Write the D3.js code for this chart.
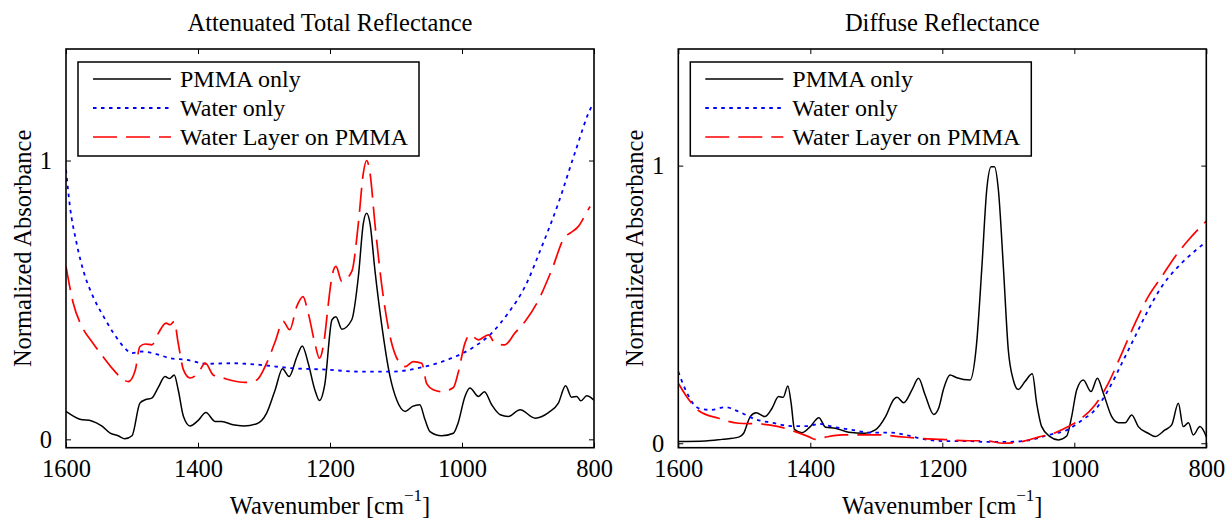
<!DOCTYPE html>
<html>
<head>
<meta charset="utf-8">
<script src="https://cdn.jsdelivr.net/npm/d3@7"></script>
<style>
  body { margin: 0; background: #fff; }
  svg text { font-family: "Liberation Serif", "Times New Roman", serif; fill: #000; }
</style>
</head>
<body>
<div id="chart"></div>
<script>
// ---- datos: [numero de onda, absorbancia normalizada] ----
var atrPmma = [[1600,0.100],[1579,0.072],[1561,0.066],[1546,0.048],[1533,0.022],[1521,0.013],[1511,0.002],[1500,0.013],
  [1488,0.130],[1480,0.142],[1470,0.148],[1460,0.187],[1450,0.225],[1443,0.218],[1436,0.231],[1430,0.178],[1422,0.082],
  [1412,0.048],[1400,0.067],[1388,0.096],[1374,0.064],[1364,0.064],[1347,0.052],[1331,0.048],[1311,0.056],[1296,0.094],
  [1283,0.178],[1272,0.253],[1262,0.225],[1250,0.297],[1242,0.335],[1233,0.273],[1223,0.178],[1216,0.139],[1208,0.195],
  [1197,0.429],[1191,0.440],[1182,0.395],[1167,0.429],[1157,0.584],[1149.5,0.775],[1144.5,0.811],[1139.4,0.775],
  [1132,0.608],[1122,0.417],[1109,0.225],[1099,0.142],[1086,0.100],[1075,0.118],[1064,0.124],[1056,0.070],[1048.5,0.028],
  [1031,0.013],[1013,0.022],[1006,0.058],[995.5,0.154],[988,0.184],[975,0.154],[966,0.171],[955,0.124],[942,0.088],
  [930,0.082],[912,0.106],[889,0.076],[869,0.096],[854,0.130],[843,0.192],[834,0.151],[826,0.154],[820,0.138],
  [811,0.156],[800,0.140]];
var atrWater = [[1600,0.967],[1594,0.835],[1584,0.704],[1571,0.584],[1559,0.512],[1543,0.440],[1528,0.381],[1513,0.333],
  [1500,0.309],[1485,0.315],[1468,0.309],[1442,0.291],[1417,0.285],[1387,0.271],[1347,0.273],[1306,0.267],[1256,0.255],
  [1205,0.250],[1157,0.243],[1107,0.243],[1056,0.261],[1016,0.291],[985,0.327],[955,0.381],[930,0.453],[904.5,0.548],
  [879,0.692],[854,0.847],[829,1.027],[803.5,1.194],[800,1.207]];
var atrLayer = [[1600,0.620],[1589,0.488],[1576,0.405],[1561,0.351],[1546,0.303],[1528,0.249],[1516,0.220],[1505.6,0.207],
  [1495,0.249],[1488,0.333],[1480,0.342],[1470,0.339],[1460,0.381],[1448.5,0.417],[1442,0.411],[1436,0.423],[1430,0.345],
  [1422,0.249],[1412,0.220],[1400,0.237],[1389,0.273],[1377,0.231],[1362,0.220],[1347,0.210],[1329,0.204],[1311,0.213],
  [1296,0.273],[1283,0.351],[1271,0.423],[1261,0.393],[1250.5,0.476],[1241,0.512],[1233,0.453],[1223,0.345],[1216,0.291],
  [1208,0.369],[1203,0.476],[1197,0.584],[1191,0.620],[1182,0.566],[1167,0.602],[1157,0.775],[1149.5,0.955],[1144.5,1.000],
  [1139.4,0.955],[1132,0.775],[1122,0.560],[1109,0.369],[1096,0.279],[1086,0.261],[1074,0.279],[1061,0.273],[1053.5,0.200],
  [1043.5,0.178],[1031,0.171],[1013,0.186],[1006,0.237],[995.5,0.345],[988,0.375],[975,0.357],[960,0.375],[950,0.345],
  [935,0.339],[920,0.381],[904.5,0.423],[884,0.500],[864,0.608],[844,0.727],[836,0.740],[824,0.763],[809,0.823],[806,0.835]];

var drPmma = [[1600,0.006],[1559,0.008],[1534,0.014],[1508.5,0.022],[1501,0.036],[1491,0.096],[1482,0.110],[1469,0.096],
  [1458,0.126],[1448,0.168],[1441,0.166],[1434,0.206],[1429,0.144],[1424,0.050],[1412.6,0.038],[1400,0.060],[1387,0.092],
  [1377,0.058],[1362,0.054],[1342,0.040],[1317,0.036],[1301.5,0.048],[1286,0.096],[1273.6,0.158],[1268.6,0.166],
  [1258.5,0.146],[1246,0.192],[1236,0.234],[1226,0.174],[1213,0.104],[1205,0.130],[1198.5,0.192],[1188.3,0.246],
  [1178,0.236],[1158,0.228],[1148,0.360],[1140,0.636],[1132.7,0.912],[1126,0.996],[1121,0.996],[1115,0.912],
  [1107.5,0.636],[1100,0.336],[1092.4,0.228],[1085,0.194],[1074.7,0.222],[1063.6,0.250],[1057,0.144],[1049.4,0.060],
  [1036.8,0.024],[1024,0.012],[1011.5,0.026],[1004,0.096],[996.4,0.192],[986.4,0.228],[974.7,0.186],[965,0.234],
  [956,0.180],[943.3,0.096],[933,0.074],[923,0.074],[913,0.102],[903,0.060],[888,0.036],[877.7,0.024],[862.6,0.048],
  [852.4,0.066],[842.4,0.144],[835,0.060],[827,0.074],[819.7,0.030],[809.6,0.060],[800,0.024]];
var drWater = [[1600,0.258],[1589,0.192],[1569,0.126],[1549,0.120],[1529,0.130],[1508.5,0.114],[1483,0.086],[1458,0.074],
  [1428,0.062],[1402.6,0.062],[1387,0.070],[1367,0.060],[1337,0.048],[1306.5,0.038],[1276,0.038],[1256,0.030],[1226,0.014],
  [1200,0.008],[1160.6,0.008],[1135,0.005],[1100,0.005],[1069.7,0.010],[1039.4,0.030],[1009,0.050],[989,0.082],
  [968.6,0.120],[948.5,0.192],[928,0.288],[908,0.384],[888,0.480],[867.6,0.564],[847.4,0.624],[827,0.672],[800,0.726]];
var drLayer = [[1600,0.216],[1589,0.174],[1569,0.117],[1539,0.090],[1508.5,0.072],[1478,0.070],[1448,0.060],[1423,0.042],
  [1402.6,0.024],[1392.4,0.014],[1377,0.022],[1352,0.030],[1321.7,0.030],[1296,0.030],[1266,0.024],[1230.8,0.017],
  [1200.5,0.014],[1160.6,0.009],[1135,0.009],[1107.6,0.000],[1079.7,0.006],[1054.5,0.022],[1029,0.038],[1009,0.060],
  [989,0.090],[968.6,0.138],[948.5,0.216],[928,0.324],[908,0.432],[888,0.528],[867.6,0.600],[847.4,0.672],[827,0.732],
  [800,0.800]];

var xTicks = [1600, 1400, 1200, 1000, 800];
var yTicks = [0, 1];
var seriesNames = ["PMMA only", "Water only", "Water Layer on PMMA"];

var panels = [
  { title: "Attenuated Total Reflectance", left: 66, yDomain: [-0.03, 1.40], data: [atrPmma, atrWater, atrLayer] },
  { title: "Diffuse Reflectance", left: 678.3, yDomain: [-0.016, 1.42], data: [drPmma, drWater, drLayer] }
];

var estilos = [
  { color: "#000000", width: 1.5, dash: null },
  { color: "#0000ff", width: 1.8, dash: "3.5,4.5" },
  { color: "#ff0000", width: 1.7, dash: "24,9" }
];

var W = 1226, H = 518;
var plotW = 528, plotTop = 49, plotBottom = 447.7;

var svg = d3.select("#chart").append("svg")
  .attr("width", W)
  .attr("height", H);

panels.forEach(function(p, i) {
  var x = d3.scaleLinear().domain([1600, 800]).range([p.left, p.left + plotW]);
  var y = d3.scaleLinear().domain(p.yDomain).range([plotBottom, plotTop]);
  var g = svg.append("g");

  g.append("clipPath").attr("id", "clip" + i)
    .append("rect").attr("x", p.left).attr("y", plotTop).attr("width", plotW).attr("height", plotBottom - plotTop);

  // titulo
  g.append("text")
    .attr("x", p.left + plotW / 2).attr("y", 31)
    .attr("text-anchor", "middle")
    .style("font-size", "24.5px")
    .text(p.title);

  // curvas
  var linea = d3.line()
    .curve(d3.curveMonotoneX)
    .x(d => x(d[0]))
    .y(d => y(d[1]));

  p.data.forEach(function(serie, k) {
    g.append("path")
      .datum(serie)
      .attr("clip-path", "url(#clip" + i + ")")
      .attr("d", linea)
      .attr("fill", "none")
      .attr("stroke", estilos[k].color)
      .attr("stroke-width", estilos[k].width)
      .attr("stroke-dasharray", estilos[k].dash);
  });

  // ejes (caja tipo matlab, ticks hacia dentro)
  var ejeX = g.append("g").attr("transform", "translate(0," + plotBottom + ")")
    .call(d3.axisBottom(x).tickValues(xTicks).tickFormat(d3.format("d")).tickSizeInner(-5).tickSizeOuter(0).tickPadding(12));
  var ejeXtop = g.append("g").attr("transform", "translate(0," + plotTop + ")")
    .call(d3.axisTop(x).tickValues(xTicks).tickSizeInner(-5).tickSizeOuter(0).tickFormat(""));
  var ejeY = g.append("g").attr("transform", "translate(" + p.left + ",0)")
    .call(d3.axisLeft(y).tickValues(yTicks).tickFormat(d3.format("d")).tickSizeInner(-5).tickSizeOuter(0).tickPadding(14));
  var ejeYright = g.append("g").attr("transform", "translate(" + (p.left + plotW) + ",0)")
    .call(d3.axisRight(y).tickValues(yTicks).tickSizeInner(-5).tickSizeOuter(0).tickFormat(""));

  [ejeX, ejeXtop, ejeY, ejeYright].forEach(function(a) {
    a.select(".domain").remove();
    a.selectAll(".tick line").attr("stroke", "#000").attr("stroke-width", 1);
    a.selectAll(".tick text").style("font-size", "24.5px").style("font-family", "Liberation Serif");
  });
  ejeX.selectAll(".tick text").attr("dy", "0.71em");

  g.append("rect")
    .attr("x", p.left).attr("y", plotTop)
    .attr("width", plotW).attr("height", plotBottom - plotTop)
    .attr("fill", "none").attr("stroke", "#000").attr("stroke-width", 1.6);

  // etiquetas
  var xl = g.append("text")
    .attr("x", p.left + plotW / 2).attr("y", 514)
    .attr("text-anchor", "middle")
    .style("font-size", "24.5px");
  xl.append("tspan").text("Wavenumber [cm");
  xl.append("tspan").attr("dy", -13).style("font-size", "17px").text("\u22121");
  xl.append("tspan").attr("dy", 13).text("]");

  g.append("text")
    .attr("transform", "translate(" + (p.left - 35) + "," + ((plotTop + plotBottom) / 2) + ") rotate(-90)")
    .attr("text-anchor", "middle")
    .style("font-size", "24.5px")
    .text("Normalized Absorbance");

  // leyenda
  var ley = g.append("g").attr("transform", "translate(" + (p.left + 12) + ",62)");
  ley.append("rect")
    .attr("width", 341).attr("height", 94)
    .attr("fill", "#fff").attr("stroke", "#000").attr("stroke-width", 1.5);
  seriesNames.forEach(function(nombre, k) {
    var yy = 17 + k * 29;
    ley.append("line")
      .attr("x1", 15).attr("x2", 93).attr("y1", yy).attr("y2", yy)
      .attr("stroke", estilos[k].color)
      .attr("stroke-width", estilos[k].width)
      .attr("stroke-dasharray", estilos[k].dash);
    ley.append("text")
      .attr("x", 102).attr("y", yy + 8)
      .style("font-size", "24px")
      .text(nombre);
  });
});
</script>
</body>
</html>
